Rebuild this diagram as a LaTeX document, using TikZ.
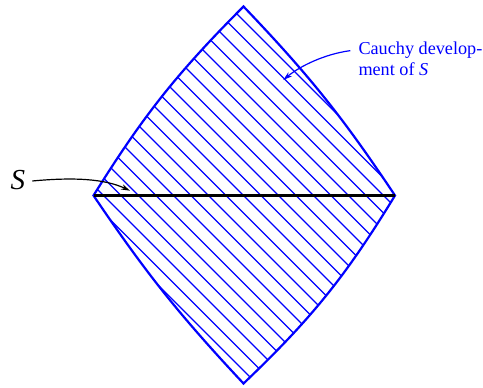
\documentclass[tikz,border=0pt]{standalone}
\usepackage{fontspec}
\setmainfont{Liberation Serif}
\usetikzlibrary{arrows.meta}
\begin{document}
\begin{tikzpicture}[x=1pt,y=1pt,
  edge/.style={draw=blue, line width=2.2pt, line join=miter},
  hatchline/.style={draw=blue, line width=1.3pt},
  sline/.style={draw=black, line width=2.7pt},
  pointer/.style={line width=1.2pt, -{Stealth[length=9pt,width=5.5pt]}},
  lbl/.style={inner sep=0pt, font=\fontsize{18.2}{21}\selectfont}]
\useasboundingbox (0,0) rectangle (483,388);
\coordinate (T) at (243.5,381.5);
\coordinate (L) at (93.5,192.5);
\coordinate (B) at (243.5,4.5);
\coordinate (R) at (395,192.5);
\def\diamondpath{(T) to[bend right=6.5] (L) to[bend right=4.5] (B) to[bend right=7.5] (R) to[bend right=5] (T) -- cycle}
\begin{scope}
  \clip \diamondpath;
  \foreach \k in {-13,...,13} {
    \pgfmathsetmacro{\c}{436+17.5*\k}
    \draw[hatchline] (\c-410,410) -- (\c+10,-10);
  }
\end{scope}
\draw[edge] \diamondpath;
\draw[sline] (L) -- (R);
% label S
\node[inner sep=0pt, font=\fontsize{29}{33}\selectfont\itshape] (slabel) at (17.8,207.5) {S};
\coordinate (stail) at (32.3,207);
\coordinate (shead) at (130,197.3);
\draw[pointer, draw=black] (stail) .. controls (75,211) and (105,209) .. (shead);
% Cauchy label
\node[lbl, text=blue, anchor=base west] (cauchy1) at (358.3,333) {Cauchy develop-};
\node[lbl, text=blue, anchor=base west] (cauchy2) at (358.3,312.5) {ment of \textit{S}};
\coordinate (ctail) at ([xshift=-8pt]cauchy1.west);
\coordinate (chead) at (283.3,308);
\draw[pointer, draw=blue] (ctail) .. controls (325,334) and (300,322) .. (chead);
\end{tikzpicture}
\end{document}
